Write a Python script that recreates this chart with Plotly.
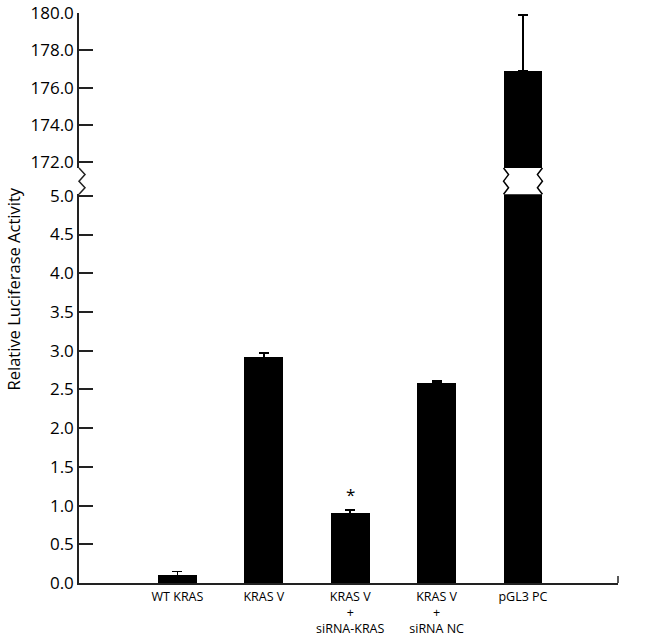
import plotly.graph_objects as go

# ---- data ----
categories = ["WT KRAS", "KRAS V", "KRAS V<br>+<br>siRNA-KRAS", "KRAS V<br>+<br>siRNA NC", "pGL3 PC"]
values = [0.10, 2.91, 0.90, 2.58, 176.9]
errors = [0.05, 0.06, 0.04, 0.03, 3.0]
lower_ticks = [0.0, 0.5, 1.0, 1.5, 2.0, 2.5, 3.0, 3.5, 4.0, 4.5, 5.0]
upper_ticks = [172.0, 174.0, 176.0, 178.0, 180.0]
sig_index = 2  # bar marked with '*'

# ---- layout constants ----
W, H = 650, 639
ML, MR, MT, MB = 79, 32, 13, 56
plot_w = W - ML - MR
plot_h = H - MT - MB
lower_dom = [0.0, 0.682]
upper_dom = [0.728, 1.0]
lower_rng = [0, 5.02]
upper_rng = [171.7, 180.0]
xr = [-1.14, 5.10]
bar_w = 0.45
FONT = "Open Sans"

xs = list(range(len(categories)))
zeros = [0] * len(values)

fig = go.Figure()
for ya in ["y", "y2"]:
    fig.add_trace(go.Bar(
        x=xs, y=values, width=bar_w, yaxis=ya, xaxis="x",
        marker=dict(color="black", line=dict(width=0)),
        error_y=dict(type="data", array=errors, arrayminus=zeros, symmetric=False,
                     color="black", thickness=1.5, width=5),
        showlegend=False, hoverinfo="skip",
    ))

axis_common = dict(showline=True, linecolor="#222", linewidth=1.5,
                   ticks="inside", ticklen=14, tickwidth=1.5, tickcolor="#222",
                   showgrid=False, zeroline=False, automargin=False,
                   tickfont=dict(family=FONT, size=17, color="black"),
                   tickformat=".1f")

fig.update_layout(
    width=W, height=H,
    margin=dict(l=ML, r=MR, t=MT, b=MB),
    paper_bgcolor="white", plot_bgcolor="white",
    bargap=0,
    xaxis=dict(range=xr, tickvals=xs, ticktext=categories, anchor="y",
               showline=True, linecolor="#222", linewidth=1.5, ticks="",
               showgrid=False, zeroline=False, automargin=False,
               ticklabelstandoff=1,
               tickfont=dict(family=FONT, size=12.5, color="black")),
    yaxis=dict(domain=lower_dom, range=lower_rng, tickvals=lower_ticks, anchor="x",
               **axis_common),
    yaxis2=dict(domain=upper_dom, range=upper_rng, tickvals=upper_ticks, anchor="x",
                **axis_common),
)

# y-axis title
fig.add_annotation(text="Relative Luciferase Activity", textangle=-90,
                   xref="paper", yref="paper", x=(13 - ML) / plot_w, y=0.515,
                   xanchor="center", yanchor="middle", showarrow=False,
                   font=dict(family=FONT, size=16.5, color="black"))

# significance asterisk
fig.add_annotation(text="*", xref="x", yref="y", x=xs[sig_index],
                   y=values[sig_index] + errors[sig_index],
                   yanchor="bottom", yshift=2, showarrow=False,
                   font=dict(family=FONT, size=17, color="black"))

# axis break zigzag on the y spine (paper coordinates)
g_top, g_bot = upper_dom[0], lower_dom[1]
amp = 6 / plot_w
n = 4
pts = []
for i in range(n + 1):
    yy = g_top - (g_top - g_bot) * i / n
    xx = 0 if i % 2 == 0 else amp
    pts.append((xx, yy))
path = "M " + " L ".join(f"{px},{py}" for px, py in pts)
fig.add_shape(type="path", path=path, xref="paper", yref="paper",
              line=dict(color="#222", width=1.5))

# zigzag on broken bar edges (pointing inward)
bi = len(values) - 1
amp_x = 5 / plot_w * (xr[1] - xr[0])
for edge, sgn in [(xs[bi] - bar_w / 2, 1), (xs[bi] + bar_w / 2, -1)]:
    pts = []
    for i in range(n + 1):
        yy = g_top - (g_top - g_bot) * i / n
        xx = edge if i % 2 == 0 else edge + sgn * amp_x
        pts.append((xx, yy))
    path = "M " + " L ".join(f"{px},{py}" for px, py in pts)
    fig.add_shape(type="path", path=path, xref="x", yref="paper",
                  line=dict(color="black", width=1.5))

# small end tick at right of x axis
fig.add_shape(type="line", xref="paper", yref="paper", x0=1, x1=1, y0=0,
              y1=7 / plot_h, line=dict(color="#222", width=1.5))

fig.write_html("out.html", config={"displayModeBar": False},
               post_script="document.body.style.margin='0px';document.body.style.overflow='hidden';")
